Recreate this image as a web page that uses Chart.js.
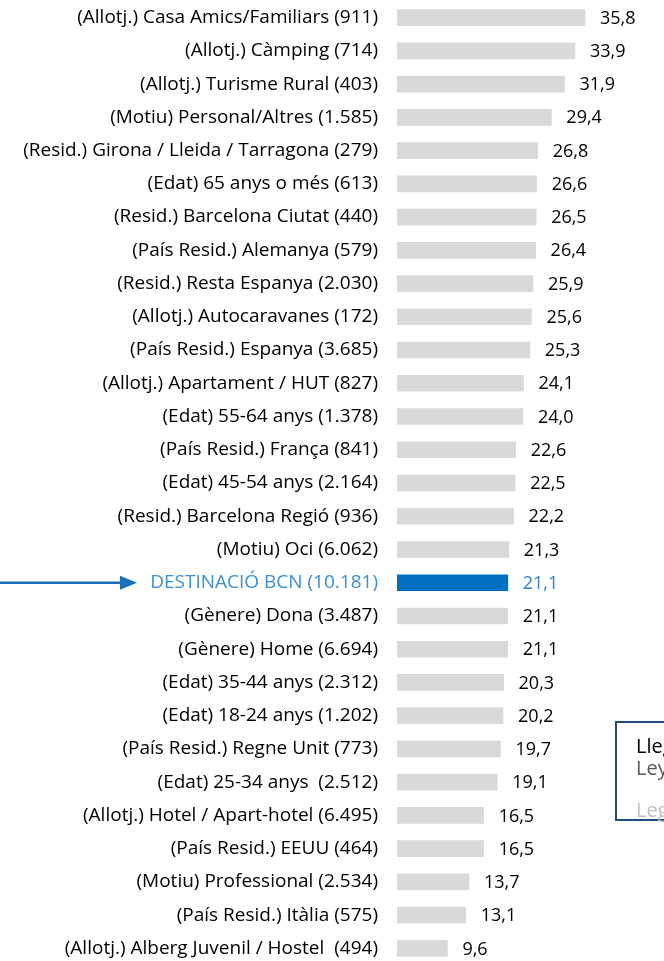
<!DOCTYPE html>
<html>
<head>
<meta charset="utf-8">
<script src="https://cdn.jsdelivr.net/npm/chart.js@4"></script>
<style>
  html, body { margin: 0; padding: 0; background: #fff; overflow: hidden; width: 664px; height: 961px; }
  #wrap { position: relative; width: 664px; height: 961px; }
  #chart { position: absolute; left: 0; top: 0; }
  .legend-box {
    position: absolute; left: 615px; top: 721px; width: 120px; height: 100px;
    border: 2px solid #1f4e79; background: #fff;
    font-family: "Open Sans", sans-serif; font-size: 20px; line-height: 22px;
    padding: 12px 0 0 19px; box-sizing: border-box;
  }
  .legend-box div { white-space: nowrap; }
</style>
</head>
<body>
<div id="wrap">
  <canvas id="chart" width="664" height="966"></canvas>
  <div class="legend-box">
    <div style="color:#000">Llegenda</div>
    <div style="color:#595959">Leyenda</div>
    <div style="color:#bfbfbf; margin-top: 20px">Legend</div>
  </div>
</div>
<script>
const labels = [
  "(Allotj.) Casa Amics/Familiars (911)",
  "(Allotj.) Càmping (714)",
  "(Allotj.) Turisme Rural (403)",
  "(Motiu) Personal/Altres (1.585)",
  "(Resid.) Girona / Lleida / Tarragona (279)",
  "(Edat) 65 anys o més (613)",
  "(Resid.) Barcelona Ciutat (440)",
  "(País Resid.) Alemanya (579)",
  "(Resid.) Resta Espanya (2.030)",
  "(Allotj.) Autocaravanes (172)",
  "(País Resid.) Espanya (3.685)",
  "(Allotj.) Apartament / HUT (827)",
  "(Edat) 55-64 anys (1.378)",
  "(País Resid.) França (841)",
  "(Edat) 45-54 anys (2.164)",
  "(Resid.) Barcelona Regió (936)",
  "(Motiu) Oci (6.062)",
  "DESTINACIÓ BCN (10.181)",
  "(Gènere) Dona (3.487)",
  "(Gènere) Home (6.694)",
  "(Edat) 35-44 anys (2.312)",
  "(Edat) 18-24 anys (1.202)",
  "(País Resid.) Regne Unit (773)",
  "(Edat) 25-34 anys  (2.512)",
  "(Allotj.) Hotel / Apart-hotel (6.495)",
  "(País Resid.) EEUU (464)",
  "(Motiu) Professional (2.534)",
  "(País Resid.) Itàlia (575)",
  "(Allotj.) Alberg Juvenil / Hostel  (494)"
];
const values = [35.8, 33.9, 31.9, 29.4, 26.8, 26.6, 26.5, 26.4, 25.9, 25.6, 25.3, 24.1, 24.0,
  22.6, 22.5, 22.2, 21.3, 21.1, 21.1, 21.1, 20.3, 20.2, 19.7, 19.1, 16.5, 16.5, 13.7, 13.1, 9.6];
const highlightLabel = "DESTINACIÓ BCN (10.181)";

const hi = labels.indexOf(highlightLabel);
const barColors = labels.map((l, i) => i === hi ? "#0070c0" : "#d9d9d9");
const fmt = v => v.toFixed(1).replace(".", ",");

// value labels at the end of each bar + arrow pointing at the highlighted row
const extras = {
  id: "extras",
  afterDatasetsDraw(chart) {
    const ctx = chart.ctx;
    const meta = chart.getDatasetMeta(0);
    ctx.save();
    ctx.font = "18px 'Open Sans', sans-serif";
    ctx.textAlign = "left";
    ctx.textBaseline = "middle";
    meta.data.forEach((bar, i) => {
      ctx.fillStyle = i === hi ? "#2f7fc8" : "#000";
      ctx.fillText(fmt(values[i]), bar.x + 15, bar.y + 1);
    });
    const y = meta.data[hi].y;
    ctx.strokeStyle = "#1a6fbb";
    ctx.fillStyle = "#1a6fbb";
    ctx.lineWidth = 2.5;
    ctx.beginPath();
    ctx.moveTo(0, y);
    ctx.lineTo(124, y);
    ctx.stroke();
    ctx.beginPath();
    ctx.moveTo(120, y - 7);
    ctx.lineTo(137, y);
    ctx.lineTo(120, y + 7);
    ctx.closePath();
    ctx.fill();
    ctx.restore();
  }
};

new Chart(document.getElementById("chart"), {
  type: "bar",
  plugins: [extras],
  data: {
    labels: labels,
    datasets: [{
      data: values,
      backgroundColor: barColors,
      borderWidth: 0,
      barThickness: 16
    }]
  },
  options: {
    indexAxis: "y",
    responsive: false,
    devicePixelRatio: 1,
    animation: false,
    layout: { padding: { left: 0, right: 4.5, top: 1, bottom: 1 } },
    plugins: { legend: { display: false }, tooltip: { enabled: false } },
    scales: {
      x: { display: false, min: 0, max: 50 },
      y: {
        grid: { display: false, drawTicks: false },
        border: { display: false },
        afterFit: s => {
          s.width = 397;
          s.paddingTop = 0;
          s.paddingBottom = 0;
        },
        ticks: {
          padding: 19,
          autoSkip: false,
          font: { family: "'Open Sans', sans-serif", size: 19 },
          color: c => c.index === hi ? "#3b8fd6" : "#000"
        }
      }
    }
  }
});
</script>
</body>
</html>
